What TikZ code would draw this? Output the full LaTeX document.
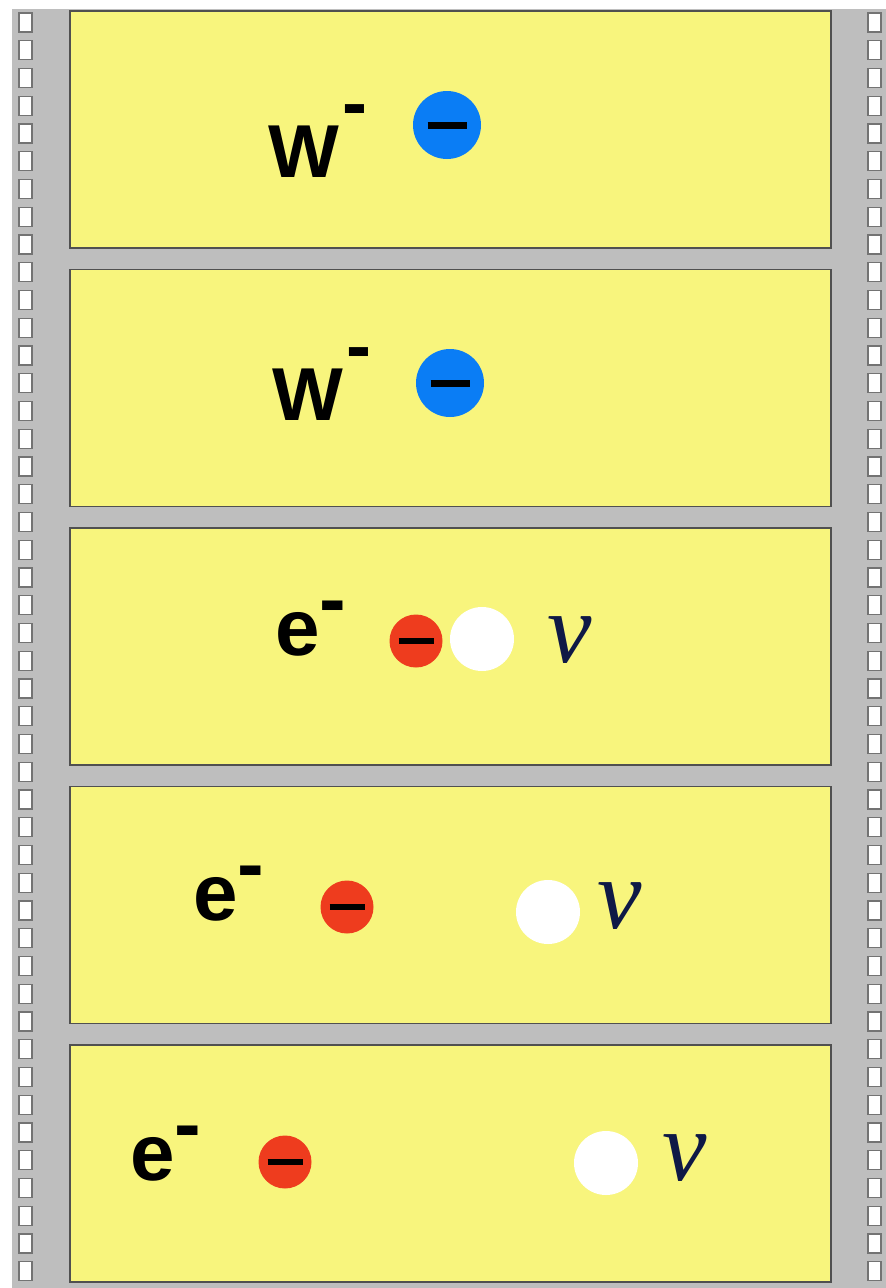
\documentclass[tikz,border=0pt]{standalone}
\usepackage{fontspec}
\setmainfont{Liberation Sans}
\newfontfamily\nufont{Liberation Serif}
\definecolor{filmgray}{RGB}{190,190,190}
\definecolor{frameyellow}{RGB}{248,245,125}
\definecolor{wblue}{RGB}{10,125,245}
\definecolor{ered}{RGB}{238,60,30}
\definecolor{nucol}{RGB}{15,25,70}
\definecolor{edgegray}{RGB}{80,80,80}
\tikzset{
  frame/.style={fill=frameyellow, draw=edgegray, line width=1.6pt},
  hole/.style={fill=white, draw=edgegray!80, line width=1.3pt},
  wlbl/.style={anchor=base west, inner sep=0pt, font=\fontsize{75}{78}\selectfont\bfseries},
  elbl/.style={anchor=base west, inner sep=0pt, font=\fontsize{80}{82}\selectfont\bfseries},
  nulbl/.style={anchor=base west, inner sep=0pt, text=nucol, font=\fontsize{100}{100}\selectfont\nufont\itshape},
  wball/.style={circle, fill=wblue, minimum size=68pt, inner sep=0pt},
  eball/.style={circle, fill=ered, minimum size=53pt, inner sep=0pt},
  nuball/.style={circle, fill=white, minimum size=64pt, inner sep=0pt},
  bigbar/.style={line width=7pt},
  smallbar/.style={line width=6pt}
}
\begin{document}
\begin{tikzpicture}[x=1pt,y=-1pt]
\useasboundingbox (0,0) rectangle (886,1288);
\fill[white] (0,0) rectangle (886,1288);
\fill[filmgray] (12,9) rectangle (886,1288);
% sprocket holes
\foreach \k in {0,...,45}{
  \draw[hole] (19,{13+27.75*\k}) rectangle (32,{32+27.75*\k});
  \draw[hole] (868,{13+27.75*\k}) rectangle (881,{32+27.75*\k});
}
% frames
\foreach \i in {0,...,4}{
  \draw[frame] (70,{11+258.5*\i}) rectangle (831,{248+258.5*\i});
}
% frame 1
\node[wlbl] (w1) at (268,177) {W\hspace{4pt}\raisebox{49pt}{-}};
\node[wball] (b1) at (447,125) {};
\draw[bigbar] ([xshift=-19.5pt]b1.center) -- ([xshift=19.5pt]b1.center);
% frame 2
\node[wlbl] (w2) at (272,420) {W\hspace{4pt}\raisebox{49pt}{-}};
\node[wball] (b2) at (450,383) {};
\draw[bigbar] ([xshift=-19.5pt]b2.center) -- ([xshift=19.5pt]b2.center);
% frame 3
\node[elbl] (e3) at (275.6,655) {e\hspace{-1pt}\raisebox{29pt}{-}};
\node[eball] (r3) at (416,641) {};
\draw[smallbar] ([xshift=-17.5pt]r3.center) -- ([xshift=17.5pt]r3.center);
\node[nuball] (n3) at (482,639) {};
\node[nulbl] (v3) at (547,662) {ν};
% frame 4
\node[elbl] (e4) at (193.6,920) {e\hspace{-1pt}\raisebox{29pt}{-}};
\node[eball] (r4) at (347,907) {};
\draw[smallbar] ([xshift=-17.5pt]r4.center) -- ([xshift=17.5pt]r4.center);
\node[nuball] (n4) at (548,912) {};
\node[nulbl] (v4) at (597,928) {ν};
% frame 5
\node[elbl] (e5) at (130.6,1180) {e\hspace{-1pt}\raisebox{29pt}{-}};
\node[eball] (r5) at (285,1162) {};
\draw[smallbar] ([xshift=-17.5pt]r5.center) -- ([xshift=17.5pt]r5.center);
\node[nuball] (n5) at (606,1163) {};
\node[nulbl] (v5) at (662,1180) {ν};
\end{tikzpicture}
\end{document}
